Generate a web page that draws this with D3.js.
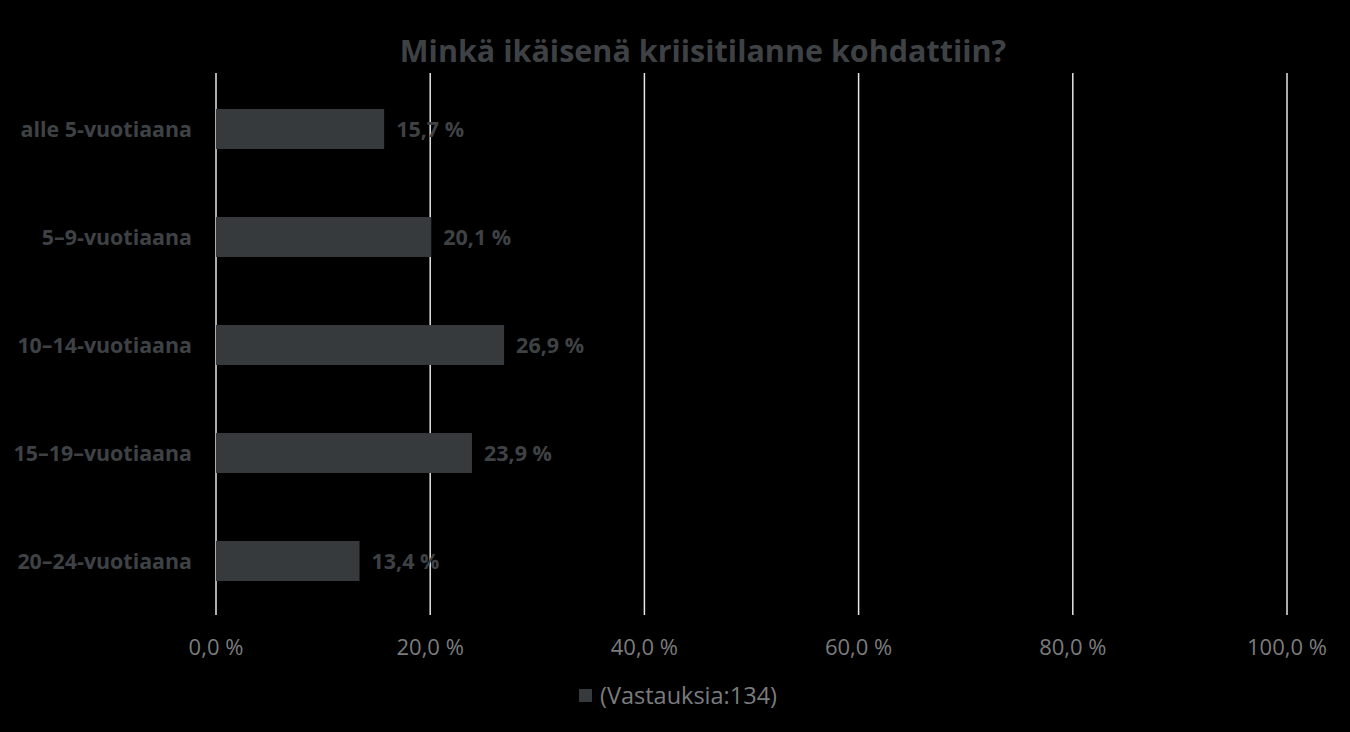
<!DOCTYPE html>
<html>
<head>
<meta charset="utf-8">
<script src="https://cdn.jsdelivr.net/npm/d3@7"></script>
<style>
 html, body { margin: 0; padding: 0; background: #000; }
 svg { display: block; font-family: "Liberation Sans Narrow", "Open Sans", sans-serif; }
</style>
</head>
<body>
<div id="chart"></div>
<script>
/*************
Data
**************/
var categories = ["alle 5-vuotiaana", "5–9-vuotiaana", "10–14-vuotiaana", "15–19–vuotiaana", "20–24-vuotiaana"];
var values = [15.7, 20.1, 26.9, 23.9, 13.4];
var xTicks = [0, 20, 40, 60, 80, 100];
var title = "Minkä ikäisenä kriisitilanne kohdattiin?";
var legendLabel = "(Vastauksia:134)";

/*************
Params
**************/
var width = 1350, height = 732;
var margin = { top: 75, right: 63, bottom: 117, left: 216 };
var barColor = "#363a3d";
var textColor = "#3f4245";
var tickColor = "#7a7c7e";

var fmt = d => d.toFixed(1).replace(".", ",") + " %";

const svg = d3.select("#chart")
 .append("svg")
 .attr("width", width)
 .attr("height", height);

svg.append("rect").attr("width", width).attr("height", height).attr("fill", "#000");

var x = d3.scaleLinear().domain([0, 100]).range([margin.left, width - margin.right]);
var y = d3.scaleBand().domain(categories).range([margin.top, height - margin.bottom]).paddingInner(0.63).paddingOuter(0.315);

// gridlines
svg.append("g")
 .selectAll("line")
 .data(xTicks)
 .enter().append("line")
 .attr("x1", d => x(d)).attr("x2", d => x(d))
 .attr("y1", margin.top - 2).attr("y2", height - margin.bottom)
 .attr("stroke", "#e6e6e6")
 .attr("stroke-width", 1.5);

// tick labels
svg.append("g")
 .selectAll("text")
 .data(xTicks)
 .enter().append("text")
 .attr("x", d => x(d))
 .attr("y", 655)
 .attr("text-anchor", "middle")
 .attr("fill", tickColor)
 .attr("font-size", 22)
 .text(fmt);

// bars
var rows = categories.map((c, i) => ({ cat: c, val: values[i] }));

svg.append("g")
 .selectAll("rect")
 .data(rows)
 .enter().append("rect")
 .attr("x", x(0))
 .attr("y", d => y(d.cat))
 .attr("width", d => x(d.val) - x(0))
 .attr("height", y.bandwidth())
 .attr("fill", barColor);

// value labels
svg.append("g")
 .selectAll("text")
 .data(rows)
 .enter().append("text")
 .attr("x", d => x(d.val) + 12)
 .attr("y", d => y(d.cat) + y.bandwidth() / 2 + 8)
 .attr("fill", textColor)
 .attr("font-size", 21.5)
 .attr("font-weight", "bold")
 .text(d => fmt(d.val));

// category labels
svg.append("g")
 .selectAll("text")
 .data(rows)
 .enter().append("text")
 .attr("x", 192)
 .attr("y", d => y(d.cat) + y.bandwidth() / 2 + 8)
 .attr("text-anchor", "end")
 .attr("fill", textColor)
 .attr("font-size", 21.4)
 .attr("font-weight", "bold")
 .text(d => d.cat);

// title
svg.append("text")
 .attr("x", 703)
 .attr("y", 62)
 .attr("text-anchor", "middle")
 .attr("fill", textColor)
 .attr("font-size", 30.5)
 .attr("font-weight", "bold")
 .text(title);

// legend
var legend = svg.append("g").attr("transform", "translate(579,689)");
legend.append("rect").attr("width", 13).attr("height", 13).attr("fill", barColor);
legend.append("text")
 .attr("x", 21).attr("y", 15)
 .attr("fill", tickColor)
 .attr("font-size", 23.5)
 .text(legendLabel);
</script>
</body>
</html>
